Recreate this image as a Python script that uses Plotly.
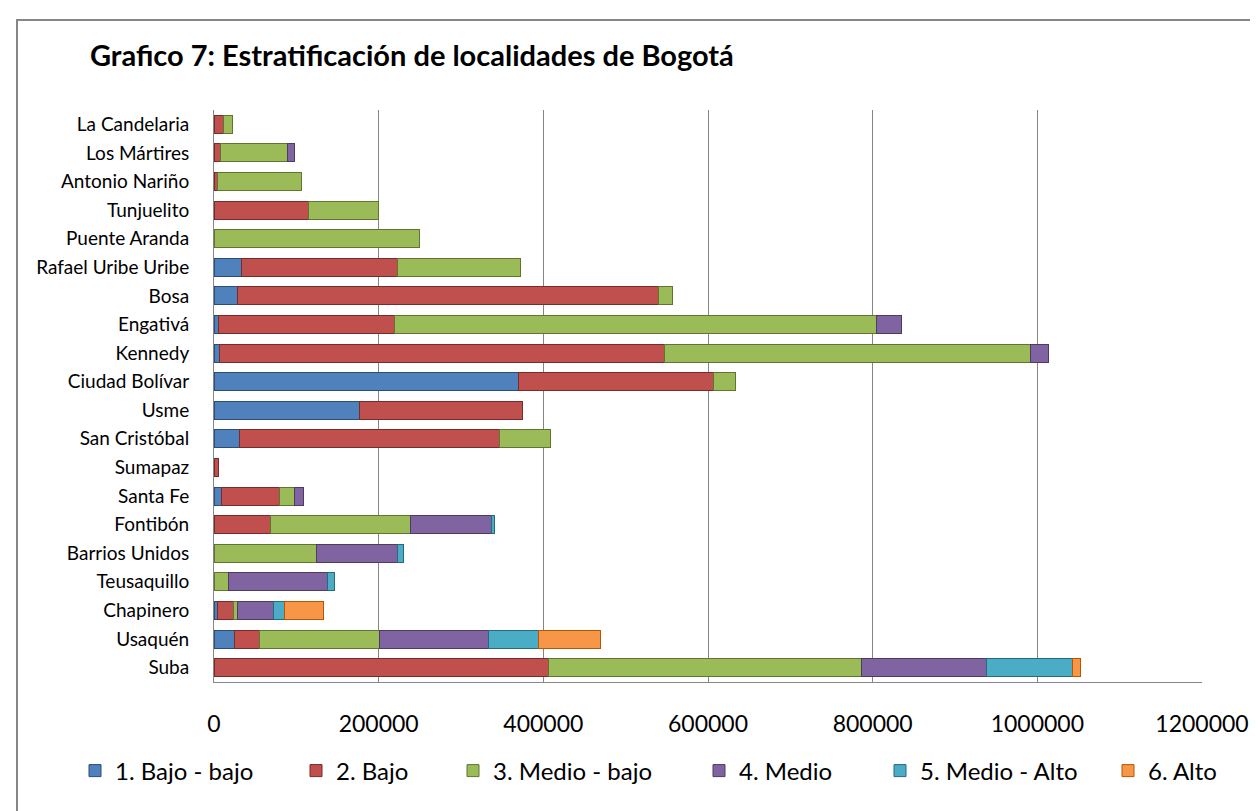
import plotly.graph_objects as go

localidades = ["La Candelaria", "Los Mártires", "Antonio Nariño", "Tunjuelito", "Puente Aranda",
               "Rafael Uribe Uribe", "Bosa", "Engativá", "Kennedy", "Ciudad Bolívar", "Usme",
               "San Cristóbal", "Sumapaz", "Santa Fe", "Fontibón", "Barrios Unidos", "Teusaquillo",
               "Chapinero", "Usaquén", "Suba"]

bajo_bajo = [0, 0, 0, 0, 0, 33600, 28800, 6000, 7000, 370300, 176900, 31200, 0, 9000, 0, 0, 0, 4000, 24300, 1000]
bajo = [12000, 7300, 4000, 115300, 0, 189800, 510600, 213800, 539800, 236900, 198300, 316100, 5500, 70300, 69200, 0, 0, 19500, 31100, 405000]
medio_bajo = [10500, 82500, 102500, 84600, 249700, 148900, 17600, 584400, 445500, 26500, 0, 61100, 0, 19000, 170000, 125000, 18200, 5200, 145700, 381000]
medio = [0, 8100, 0, 0, 0, 0, 0, 31100, 21400, 0, 0, 0, 0, 10100, 97500, 97600, 119800, 44100, 132800, 151400]
medio_alto = [0, 0, 0, 0, 0, 0, 0, 0, 0, 0, 0, 0, 0, 0, 4100, 7700, 8500, 13400, 60700, 104100]
alto = [0, 0, 0, 0, 0, 0, 0, 0, 0, 0, 0, 0, 0, 0, 0, 0, 0, 47000, 75100, 9800]

series_names = ["1. Bajo - bajo", "2. Bajo", "3. Medio - bajo", "4. Medio", "5. Medio - Alto", "6. Alto"]
series_values = [bajo_bajo, bajo, medio_bajo, medio, medio_alto, alto]
fill_colors = ["#4F81BD", "#C0504D", "#9BBB59", "#8064A2", "#4BACC6", "#F79646"]
line_colors = ["#2C4D75", "#772C2A", "#5F7530", "#4D3B62", "#276A7C", "#B65708"]

x_ticks = [0, 200000, 400000, 600000, 800000, 1000000, 1200000]

FONT = "Lato"
W, H = 1258, 811
L, R, T, B = 206, 64, 102, 124
pw, ph = W - L - R, H - T - B

# legend entry anchor positions (px, left edge of each legend box)
legend_px = [67, 288, 445, 691, 872, 1100]
legend_ids = ["legend", "legend2", "legend3", "legend4", "legend5", "legend6"]

fig = go.Figure()
for name, vals, fc, lc, lid in zip(series_names, series_values, fill_colors, line_colors, legend_ids):
    fig.add_trace(go.Bar(
        y=localidades,
        x=[v if v else None for v in vals],
        name=name,
        orientation="h",
        legend=lid,
        showlegend=True,
        marker=dict(color=fc, line=dict(color=lc, width=1)),
    ))

def px_x(p):
    return (p - L) / pw

def px_y(p):
    return (H - B - p) / ph

legend_layouts = {}
for lid, lx in zip(legend_ids, legend_px):
    legend_layouts[lid] = dict(
        orientation="h",
        xref="container", yref="container",
        x=lx / W, xanchor="left",
        y=1 - 763 / H, yanchor="middle",
        font=dict(family=FONT, size=24, color="#000000"),
        bgcolor="rgba(0,0,0,0)",
        borderwidth=0,
        visible=True,
    )

fig.update_layout(
    width=W, height=H,
    showlegend=True,
    barmode="stack",
    bargap=0.37,
    paper_bgcolor="white",
    plot_bgcolor="white",
    margin=dict(l=L, r=R, t=T, b=B, pad=0),
    font=dict(family=FONT, color="#000000"),
    title=dict(
        text="<b>Grafico 7: Estratificación de localidades de Bogotá</b>",
        font=dict(family=FONT, size=29, color="#000000"),
        xref="container", yref="container",
        x=82 / W, xanchor="left",
        y=1 - 48 / H, yanchor="middle",
    ),
    xaxis=dict(
        range=[0, 1200000],
        tickvals=x_ticks,
        ticktext=[str(v) for v in x_ticks],
        showgrid=True, gridcolor="#868686", gridwidth=1,
        zeroline=False,
        showline=True, linecolor="#868686", linewidth=1,
        ticks="", ticklabelstandoff=21,
        tickfont=dict(family=FONT, size=23, color="#000000"),
    ),
    yaxis=dict(
        autorange="reversed",
        showgrid=False,
        showline=True, linecolor="#868686", linewidth=1,
        ticks="", ticklabelstandoff=20,
        tickfont=dict(family=FONT, size=19, color="#000000"),
    ),
    shapes=[dict(
        type="rect", xref="paper", yref="paper",
        x0=px_x(9), x1=px_x(1256), y0=px_y(830), y1=px_y(10),
        line=dict(color="#868686", width=2), fillcolor="rgba(0,0,0,0)",
        layer="below",
    )],
    **legend_layouts,
)

fig.write_html("out.html")
